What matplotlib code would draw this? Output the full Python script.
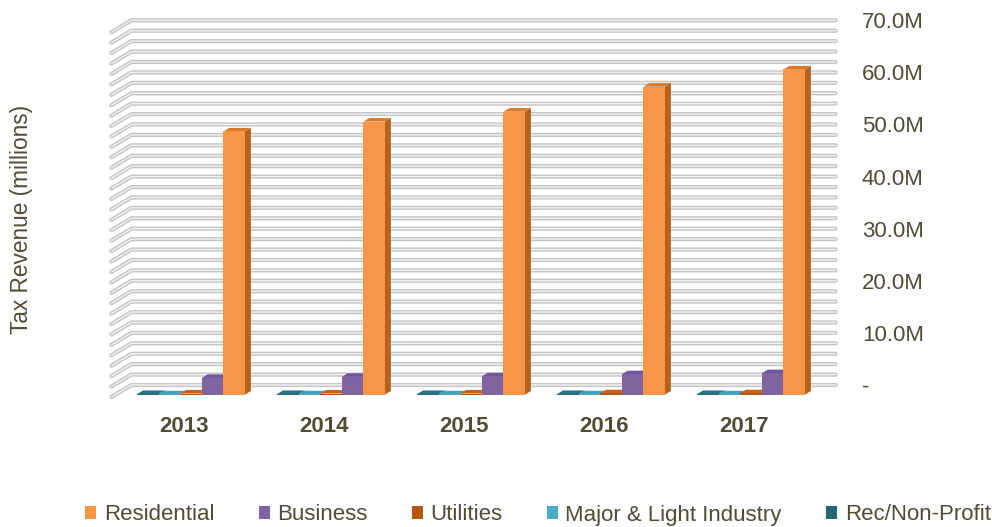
import numpy as np
import matplotlib.pyplot as plt
from matplotlib.patches import Polygon, Patch

plt.rcParams['font.family'] = ['Liberation Sans', 'DejaVu Sans']

# data (millions)
years = ['2013', '2014', '2015', '2016', '2017']
residential = [50.5, 52.4, 54.3, 59.1, 62.4]
business = [3.2, 3.4, 3.5, 3.9, 4.1]
utilities = [0.2, 0.2, 0.2, 0.25, 0.25]
industry = [0.05, 0.05, 0.05, 0.05, 0.05]
rec_nonprofit = [0.1, 0.1, 0.1, 0.1, 0.1]

series_names = ['Residential', 'Business', 'Utilities', 'Major & Light Industry', 'Rec/Non-Profit']
series_values = [residential, business, utilities, industry, rec_nonprofit]
# front, side, top shades
series_colors = [
    ('#F79646', '#B5621C', '#DA7A2C'),
    ('#8064A2', '#5B4578', '#6D56A0'),
    ('#B8570B', '#7E3C07', '#C4601A'),
    ('#4BACC6', '#347A8C', '#45A3BD'),
    ('#246878', '#174652', '#2A7282'),
]
ytick_vals = [0, 10, 20, 30, 40, 50, 60, 70]
ytick_labels = ['-', '10.0M', '20.0M', '30.0M', '40.0M', '50.0M', '60.0M', '70.0M']
text_color = '#524C35'

fig = plt.figure(figsize=(9.92, 5.27), dpi=100)
ax = fig.add_axes([100 / 992, (527 - 410) / 527, 752 / 992, 400 / 527])
ax.set_xlim(-107 / 140, 645 / 140)
ax.set_ylim(-25 / 5.21, 375 / 5.21)

# pseudo 3d depth offsets (towards viewer = left/down)
dxw, dyw = 20 / 140, 12 / 5.21
f_front, f_back = 0.8, 0.5
wall_left, wall_right = -0.54, 4.49

# back wall + left wall gridlines
for v in np.arange(0, 71, 2):
    xs = [wall_left - dxw, wall_left, wall_right]
    ys = [v - dyw, v, v]
    ax.plot(xs, ys, color='#C4C4C4', lw=3.0, solid_capstyle='round', solid_joinstyle='round', zorder=1)
    ax.plot(xs, ys, color='#F2F2F2', lw=1.0, solid_capstyle='round', solid_joinstyle='round', zorder=1.1)

# bars, drawn left to right: Rec/Non-Profit ... Residential
w = 0.154
order = list(range(len(series_names)))[::-1]
x = np.arange(len(years))
fx, fy = -f_front * dxw, -f_front * dyw
bx, by = -f_back * dxw, -f_back * dyw
for i in x:
    for k, s in enumerate(order):
        v = series_values[s][i]
        front, side, top = series_colors[s]
        x0 = i - 2.5 * w + k * w
        x1 = x0 + w
        z = 2 + i * 10 + k
        ax.add_patch(Polygon([(x1 + fx, fy), (x1 + fx, v + fy), (x1 + bx, v + by), (x1 + bx, by)],
                             closed=True, facecolor=side, edgecolor='none', zorder=z))
        ax.add_patch(Polygon([(x0 + fx, v + fy), (x1 + fx, v + fy), (x1 + bx, v + by), (x0 + bx, v + by)],
                             closed=True, facecolor=top, edgecolor='none', zorder=z))
        ax.add_patch(Polygon([(x0 + fx, fy), (x1 + fx, fy), (x1 + fx, v + fy), (x0 + fx, v + fy)],
                             closed=True, facecolor=front, edgecolor='none', zorder=z + 0.5))

# year labels
for i, yr in enumerate(years):
    ax.text(i - 0.164, -41 / 5.21, yr, ha='center', va='center', fontsize=16,
            fontweight='bold', color=text_color)

for sp in ax.spines.values():
    sp.set_visible(False)
ax.set_xticks([])
ax.yaxis.tick_right()
ax.set_yticks(ytick_vals)
ax.set_yticklabels(ytick_labels)
ax.tick_params(axis='y', length=0, pad=7.2, labelsize=16, labelcolor=text_color)
for lbl in ax.get_yticklabels():
    lbl.set_horizontalalignment('left')

fig.text(22 / 992, 1 - 219 / 527, 'Tax Revenue (millions)', rotation=90,
         ha='center', va='center', fontsize=16.3, color=text_color)

handles = [Patch(facecolor=series_colors[s][0], edgecolor='none') for s in range(len(series_names))]
leg = fig.legend(handles, series_names, loc='center', bbox_to_anchor=(538 / 992, 1 - 515 / 527),
                 ncol=5, frameon=False, fontsize=16, handlelength=0.5, handleheight=0.5,
                 handletextpad=0.33, columnspacing=2.0, borderaxespad=0, borderpad=0)
for t in leg.get_texts():
    t.set_color(text_color)

fig.savefig('out.png', dpi=100)
